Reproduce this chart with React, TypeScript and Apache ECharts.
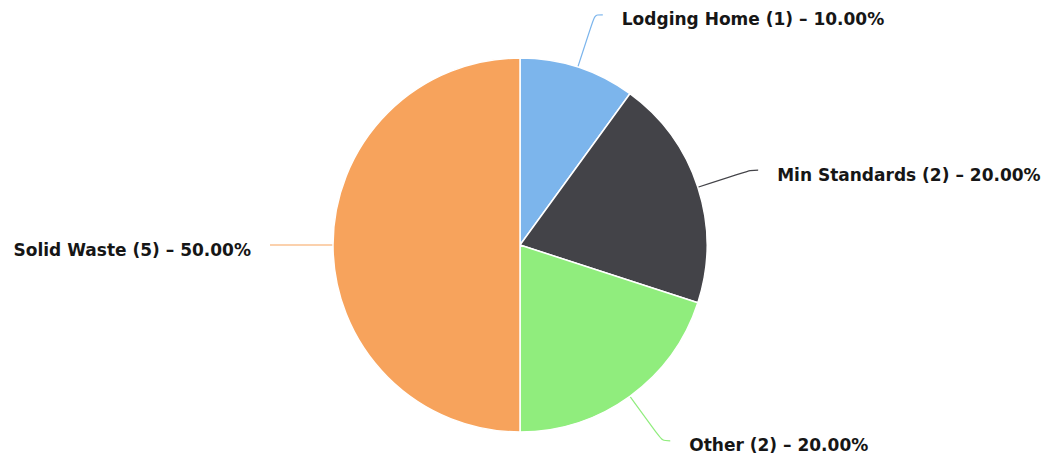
import React, { useEffect, useRef } from "react";
import * as echarts from "echarts";

const categories = ["Lodging Home", "Min Standards", "Other", "Solid Waste"];
const counts = [1, 2, 2, 5];
const colors = ["#7cb5ec", "#434348", "#90ed7d", "#f7a35c"];

export default function App() {
  const ref = useRef<HTMLDivElement>(null);
  useEffect(() => {
    if (!ref.current) return;
    const chart = echarts.init(ref.current, undefined, { renderer: "svg" });
    chart.setOption({
      animation: false,
      backgroundColor: "#ffffff",
      series: [
        {
          type: "pie",
          center: [520, 245],
          radius: 187,
          startAngle: 90,
          clockwise: true,
          avoidLabelOverlap: false,
          itemStyle: { borderColor: "#ffffff", borderWidth: 1.5 },
          label: {
            show: true,
            position: "outside",
            distanceToLabelLine: 19,
            formatter: (p: any) => `{t|${p.name} (${p.value}) – ${p.percent.toFixed(2)}%}`,
            rich: {
              t: {
                color: "#161616",
                fontFamily: "DejaVu Sans",
                fontWeight: "bold",
                fontSize: 17,
                lineHeight: 20,
                padding: [9, 0, 0, 0],
              },
            },
          },
          labelLine: {
            show: true,
            length: 55,
            length2: 8,
            smooth: 0.3,
            lineStyle: { width: 1.2 },
          },
          data: categories.map((name, i) => ({
            name,
            value: counts[i],
            itemStyle: { color: colors[i] },
            labelLine: { lineStyle: { color: colors[i] } },
          })),
        },
      ],
    });
    return () => chart.dispose();
  }, []);
  return (
    <div
      ref={ref}
      style={{ position: "fixed", left: 0, top: 0, width: 1045, height: 458 }}
    />
  );
}
